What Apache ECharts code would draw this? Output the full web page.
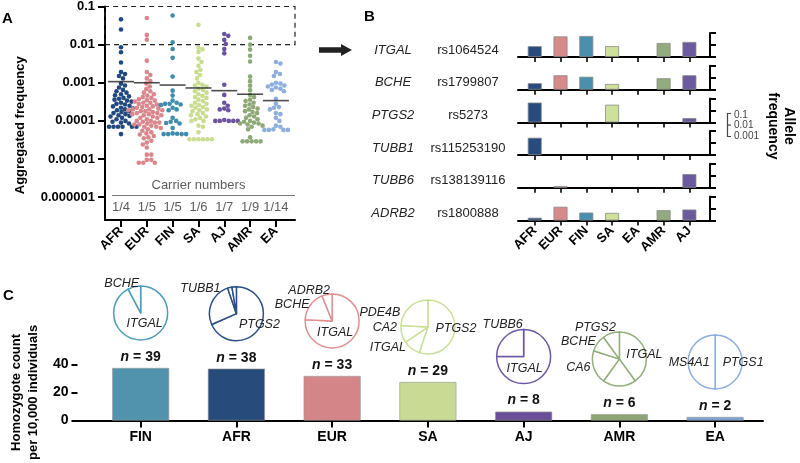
<!DOCTYPE html>
<html><head><meta charset="utf-8">
<script src="https://cdn.jsdelivr.net/npm/echarts@6/dist/echarts.min.js"></script>
<style>html,body{margin:0;padding:0;background:#fff}#c{width:800px;height:463px}</style>
</head><body><div id="c"></div>
<script>
// ================= DATA =================
// Panel A: aggregated frequency per carrier (log scale)
const popsA = ['AFR', 'EUR', 'FIN', 'SA', 'AJ', 'AMR', 'EA'];
const carriersA = ['1/4', '1/5', '1/5', '1/6', '1/7', '1/9', '1/14'];
const meanA = [0.00107, 0.001, 0.00087, 0.00073, 0.00062, 0.0005, 0.00034];
const tickLabelsA = ['0.000001', '0.00001', '0.0001', '0.001', '0.01', '0.1'];
const freqAFR = [0.046, 0.025, 0.0085, 0.0063, 0.0034, 0.0019, 0.0017, 0.0015, 0.0013,
  0.00095, 0.00085, 0.00075, 0.00065,
  0.0006, 0.00055, 0.0005, 0.00047, 0.00044, 0.0004, 0.00038, 0.00036,
  0.00034, 0.00032, 0.0003, 0.00028, 0.00027, 0.00025, 0.00024, 0.00022, 0.00021, 0.0002,
  0.00019, 0.00018, 0.00017, 0.00016, 0.00015, 0.00014, 0.000135, 0.00013, 0.00012, 0.00011,
  0.0001, 0.000095, 0.00009, 0.000085,
  0.00007, 0.00007, 0.00007, 0.00007, 0.00007, 0.00007, 0.000045];
const freqEUR = [0.05, 0.018, 0.0135, 0.0038, 0.0019, 0.0016, 0.0013, 0.0011,
  0.00095, 0.0008, 0.00068,
  0.0006, 0.00055, 0.0005, 0.00046, 0.00042, 0.0004, 0.00037, 0.00035,
  0.00034, 0.00032, 0.0003, 0.0003, 0.00028, 0.00027, 0.00026, 0.00025, 0.00024, 0.00023, 0.00022, 0.00021, 0.0002, 0.0002,
  0.00019, 0.00019, 0.00018, 0.00018, 0.00017, 0.00016, 0.00016, 0.00015, 0.00015, 0.00014, 0.00014, 0.00013, 0.00012, 0.00012, 0.00011, 0.0001,
  0.0001, 0.000095, 0.00009, 0.00009, 0.000085, 0.00008, 0.00008, 0.000075, 0.00007, 0.00007, 0.000065, 0.00006,
  0.000055, 0.00005, 0.000047, 0.000044, 0.00004, 0.000037, 0.000035,
  0.00003, 0.000027, 0.000024, 0.00002,
  0.000013, 0.000013, 0.0000095, 0.0000095, 0.000008, 0.000008, 0.000008];
const freqFIN = [0.058, 0.0115, 0.0077, 0.0045, 0.00145, 0.00062, 0.00046, 0.00034, 0.0003,
  0.00028, 0.00028, 0.00027, 0.00026, 0.00022, 0.0002, 0.00019, 0.00012, 0.0001, 0.000095,
  0.000088, 0.000085, 0.000065, 0.000047, 0.000046, 0.000045, 0.000045, 0.000045, 0.000045];
const freqSA = [0.033, 0.0083, 0.0075, 0.0064, 0.0043, 0.0035, 0.0028, 0.0022, 0.0019, 0.0016, 0.0013, 0.001,
  0.00088, 0.00085, 0.0008, 0.0007, 0.00065, 0.0006, 0.00055, 0.0005, 0.00045, 0.00042, 0.0004, 0.00036,
  0.00033, 0.0003, 0.00028, 0.00026, 0.00025, 0.00023, 0.00022, 0.0002, 0.00019, 0.00018, 0.00016, 0.00015,
  0.00014, 0.00013, 0.00012, 0.00011, 0.0001, 0.0001,
  0.000075, 0.00007, 0.00005,
  0.000033, 0.000033, 0.000033, 0.000033, 0.000033, 0.000033];
const freqAJ = [0.019, 0.017, 0.0133, 0.0104, 0.0077, 0.0059, 0.00089, 0.00048, 0.0003, 0.00025,
  0.00021, 0.0002, 0.00019, 0.000105, 0.0001, 0.0001, 0.0001, 0.0001, 0.0001];
const freqAMR = [0.015, 0.01, 0.0074, 0.0051, 0.0036, 0.00145, 0.0011, 0.00084, 0.00064,
  0.00048, 0.00042, 0.00036, 0.00033, 0.0003, 0.00027, 0.00025, 0.00023, 0.00021, 0.0002, 0.00018,
  0.00017, 0.00016, 0.00014, 0.00013, 0.00012,
  0.00011, 0.0001, 0.000095, 0.00009, 0.000085, 0.000085, 0.00008, 0.000075, 0.00007, 0.00006,
  0.000037, 0.000029, 0.000029, 0.000029, 0.000029, 0.000029];
const freqEA = [0.0035, 0.0032, 0.0019, 0.0017, 0.0015, 0.001, 0.00095, 0.0009, 0.00085, 0.0008,
  0.00075, 0.0007, 0.00065, 0.0006, 0.00038, 0.00028, 0.00023, 0.00022, 0.0002, 0.00016,
  0.00015, 0.00012, 0.0001, 0.000075, 0.00007, 0.00006, 0.000058, 0.000058, 0.000058, 0.000058];

// Panel B: allele frequency per variant (log 0.001 - 0.1)
const popsB = ['AFR', 'EUR', 'FIN', 'SA', 'EA', 'AMR', 'AJ'];
const genesB = ['ITGAL', 'BCHE', 'PTGS2', 'TUBB1', 'TUBB6', 'ADRB2'];
const snpsB = ['rs1064524', 'rs1799807', 'rs5273', 'rs115253190', 'rs138139116', 'rs1800888'];
const afITGAL = [0.008, 0.052, 0.056, 0.008, 0, 0.0147, 0.018];
const afBCHE = [0.0035, 0.016, 0.012, 0.003, 0, 0.009, 0.016];
const afPTGS2 = [0.045, 0, 0, 0.03, 0, 0, 0.0023];
const afTUBB1 = [0.028, 0, 0, 0, 0, 0, 0];
const afTUBB6 = [0, 0.0014, 0, 0, 0, 0, 0.014];
const afADRB2 = [0.0017, 0.014, 0.0046, 0.0043, 0, 0.0072, 0.0082];

// Panel C: homozygote count per 10,000 individuals
const popsC = ['FIN', 'AFR', 'EUR', 'SA', 'AJ', 'AMR', 'EA'];
const homRate = [37.4, 36.9, 31.7, 27.4, 6.4, 4.6, 2.6];
const homN = [39, 38, 33, 29, 8, 6, 2];
const pieGenesFIN = ['ITGAL', 'BCHE'];
const pieCountsFIN = [36, 3];
const pieGenesAFR = ['PTGS2', 'TUBB1', 'ITGAL', 'BCHE'];
const pieCountsAFR = [26, 10, 1, 1];
const pieGenesEUR = ['ITGAL', 'BCHE', 'ADRB2'];
const pieCountsEUR = [25, 6, 2];
const pieGenesSA = ['PTGS2', 'ITGAL', 'CA2', 'PDE4B'];
const pieCountsSA = [16, 3, 3, 7];
const pieGenesAJ = ['ITGAL', 'TUBB6'];
const pieCountsAJ = [6, 2];
const pieGenesAMR = ['ITGAL', 'other', 'CA6', 'BCHE', 'PTGS2'];
const pieCountsAMR = [4, 2, 2, 1, 1];
const pieGenesEA = ['PTGS1', 'MS4A1'];
const pieCountsEA = [1, 1];

// ================= STYLE / LAYOUT =================
const FONT = "'Liberation Sans', Arial, sans-serif";
const dotCol = {AFR:'#22497f', EUR:'#d9878c', FIN:'#3f8cad', SA:'#c9dc8f', AJ:'#6a539e', AMR:'#8fa877', EA:'#8eaedc'};
const barColB = {AFR:'#274b7d', EUR:'#d7898c', FIN:'#4a8fae', SA:'#cfe09a', EA:'#8eaedc', AMR:'#94aa7f', AJ:'#6c5a9e'};
const barColC = {FIN:'#5193ad', AFR:'#274b7b', EUR:'#d38587', SA:'#c8da94', AJ:'#6a5099', AMR:'#8ea476', EA:'#7ba2d6'};
const pieCol = {FIN:'#4d9cb8', AFR:'#2a4f86', EUR:'#df8f91', SA:'#c9e099', AJ:'#6b58a3', AMR:'#93ae7d', EA:'#8aaee0'};
const idx7 = [0,1,2,3,4,5,6];

const gA = {left:105, top:6, width:190, height:214};
const xA = [-0.62, 6.74], yA = [-6.6, -1];
const rowBottoms = [57, 89.7, 122.4, 155.1, 187.8, 220.5];
const gC = {left:71, top:364.3, width:692, height:56.4};

const el = document.getElementById('c');
const chart = echarts.init(el, null, {renderer:'canvas'});

// beeswarm layout (pixel-space collision avoidance)
function swarm(vals, gi) {
  const pxX = gA.width / (xA[1] - xA[0]);
  const pxY = gA.height / (yA[1] - yA[0]);
  const d = 4.3, placed = [], out = [];
  const logs = vals.map(v => Math.log10(v)).sort((a, b) => b - a);
  for (const ly of logs) {
    const y = ly * pxY;
    let off = 0;
    for (let k = 0; k < 400; k++) {
      const o = (k % 2 ? 1 : -1) * Math.ceil(k / 2) * 0.5;
      let ok = true;
      for (const p of placed) {
        if ((p[0] - o) * (p[0] - o) + (p[1] - y) * (p[1] - y) < d * d) { ok = false; break; }
      }
      if (ok) { off = o; break; }
    }
    placed.push([off, y]);
    out.push([gi + off / pxX, ly]);
  }
  return out;
}

const axisBlack = {color:'#000', width:2};
const xAxis = [], yAxis = [], grid = [], series = [];

// ---- Panel A ----
grid.push(gA);
xAxis.push({gridIndex:0, type:'value', min:xA[0], max:xA[1],
  axisLine:{onZero:false, lineStyle:axisBlack},
  axisTick:{customValues:idx7, length:7, lineStyle:axisBlack},
  axisLabel:{customValues:idx7, formatter:v => popsA[v], rotate:45, margin:9,
    fontFamily:FONT, fontWeight:'bold', fontSize:13, color:'#000'},
  splitLine:{show:false}});
yAxis.push({gridIndex:0, type:'value', min:yA[0], max:yA[1],
  name:'Aggregated frequency', nameLocation:'middle', nameGap:78,
  nameTextStyle:{fontFamily:FONT, fontWeight:'bold', fontSize:13, color:'#000', padding:[0, 24, 0, 0]},
  axisLine:{onZero:false, lineStyle:axisBlack},
  axisTick:{customValues:[-6,-5,-4,-3,-2,-1], length:7, lineStyle:axisBlack},
  axisLabel:{customValues:[-6,-5,-4,-3,-2,-1], formatter:v => tickLabelsA[Math.round(v) + 6], margin:10,
    fontFamily:FONT, fontWeight:'bold', fontSize:13, color:'#000'},
  splitLine:{show:false}});
const freqA = [freqAFR, freqEUR, freqFIN, freqSA, freqAJ, freqAMR, freqEA];
popsA.forEach((p, i) => {
  series.push({type:'scatter', xAxisIndex:0, yAxisIndex:0, symbol:'circle', symbolSize:4.6,
    itemStyle:{color:dotCol[p], opacity:1}, data:swarm(freqA[i], i), silent:true});
});
series.push({type:'scatter', xAxisIndex:0, yAxisIndex:0, symbol:'rect', symbolSize:[26, 1.6],
  itemStyle:{color:'#222'}, z:5, silent:true,
  data:meanA.map((m, i) => [i, Math.log10(m)]),
  markArea:{silent:true, itemStyle:{color:'rgba(0,0,0,0)', borderColor:'#222', borderWidth:1.2, borderType:[5,4]},
    data:[[{coord:[xA[0], -2]}, {coord:[xA[1], -1]}]]}});
series.push({type:'scatter', xAxisIndex:0, yAxisIndex:0, symbolSize:0, silent:true,
  data:carriersA.map((c, i) => [i, -6.27]),
  label:{show:true, position:'inside', formatter:p => carriersA[p.dataIndex], fontFamily:FONT, fontSize:13, color:'#333'},
  markLine:{silent:true, symbol:'none', label:{show:false}, lineStyle:{color:'#777', width:1, type:'solid'},
    data:[[{coord:[-0.35, -5.96]}, {coord:[xA[1], -5.96]}]]}});
series.push({type:'scatter', xAxisIndex:0, yAxisIndex:0, symbolSize:0, silent:true,
  data:[[3, -5.69]],
  label:{show:true, position:'inside', formatter:'Carrier numbers', fontFamily:FONT, fontSize:13, color:'#333'}});

// ---- Panel B ----
const rowAF = [afITGAL, afBCHE, afPTGS2, afTUBB1, afTUBB6, afADRB2];
rowAF.forEach((af, r) => {
  const gi = r + 1;
  grid.push({left:518, top:rowBottoms[r] - 24, width:192, height:24});
  xAxis.push({gridIndex:gi, type:'value', min:-0.65, max:6.8,
    axisLine:{onZero:false, lineStyle:axisBlack},
    axisTick:{customValues:idx7, length:5, lineStyle:{color:'#000', width:1.6}},
    axisLabel: r === 5 ? {customValues:idx7, formatter:v => popsB[v], rotate:45, margin:8,
      fontFamily:FONT, fontWeight:'bold', fontSize:13, color:'#000'} : {show:false},
    splitLine:{show:false}});
  yAxis.push({gridIndex:gi, type:'value', position:'right', min:0, max:2, interval:1,
    axisLine:{show:true, onZero:false, lineStyle:axisBlack},
    axisTick:{show:true, length:6, lineStyle:axisBlack},
    axisLabel:{show:false}, splitLine:{show:false}});
  const data = [];
  af.forEach((v, i) => {
    if (v > 0) data.push({value:[i, Math.log10(v) + 3], itemStyle:{color:barColB[popsB[i]]}});
  });
  series.push({type:'bar', xAxisIndex:gi, yAxisIndex:gi, barWidth:14, silent:true,
    itemStyle:{borderColor:'#8a8a8a', borderWidth:0.8}, data});
});

// ---- Panel C ----
grid.push(gC);
xAxis.push({gridIndex:7, type:'value', min:-0.66, max:6.5,
  axisLine:{onZero:false, lineStyle:axisBlack},
  axisTick:{customValues:idx7, length:7, lineStyle:axisBlack},
  axisLabel:{customValues:idx7, formatter:v => popsC[v], margin:10,
    fontFamily:FONT, fontWeight:'bold', fontSize:14, color:'#000'},
  splitLine:{show:false}});
yAxis.push({gridIndex:7, type:'value', min:0, max:40, interval:20,
  name:'Homozygote count\nper 10,000 individuals', nameLocation:'middle', nameGap:30,
  nameTextStyle:{fontFamily:FONT, fontWeight:'bold', fontSize:13, lineHeight:17, color:'#000'},
  axisLine:{show:false, onZero:false},
  axisTick:{show:true, length:6, lineStyle:axisBlack},
  axisLabel:{margin:9, fontFamily:FONT, fontWeight:'bold', fontSize:14, color:'#000'},
  splitLine:{show:false}});
series.push({type:'bar', xAxisIndex:7, yAxisIndex:7, barWidth:57, silent:true,
  itemStyle:{borderColor:'#999', borderWidth:0.6},
  data:homRate.map((v, i) => ({value:[i, v], itemStyle:{color:barColC[popsC[i]]}})),
  label:{show:true, position:'top', distance:4, formatter:p => '{i|n} = ' + homN[p.dataIndex],
    fontFamily:FONT, fontWeight:'bold', fontSize:14, color:'#111',
    rich:{i:{fontFamily:FONT, fontStyle:'italic', fontWeight:'bold', fontSize:14, color:'#111'}}}});

// ---- graphics: panel letters, arrow, row labels, legend ----
const graphic = [
  {type:'text', left:2, top:11, style:{text:'A', font:'bold 15px ' + FONT, fill:'#000'}},
  {type:'text', left:364, top:9, style:{text:'B', font:'bold 15px ' + FONT, fill:'#000'}},
  {type:'text', left:3, top:288, style:{text:'C', font:'bold 15px ' + FONT, fill:'#000'}},
  {type:'polygon', shape:{points:[[319,47.3],[341,47.3],[341,44],[352,50],[341,56],[341,52.7],[319,52.7]]}, style:{fill:'#222'}},
  {type:'text', x:781, y:126, rotation:-Math.PI/2,
    style:{text:'Allele\nfrequency', font:'bold 14px ' + FONT, fill:'#000', align:'center', verticalAlign:'middle', lineHeight:16}},
  {type:'polyline', shape:{points:[[731,113.5],[727.5,113.5],[727.5,136.5],[731,136.5]]}, style:{stroke:'#444', lineWidth:1.2, fill:null}},
  {type:'line', shape:{x1:727.5, y1:125, x2:731, y2:125}, style:{stroke:'#444', lineWidth:1.2}},
  {type:'text', x:734, y:115, style:{text:'0.1', font:'10px ' + FONT, fill:'#444', verticalAlign:'middle'}},
  {type:'text', x:734, y:125.5, style:{text:'0.01', font:'10px ' + FONT, fill:'#444', verticalAlign:'middle'}},
  {type:'text', x:734, y:136, style:{text:'0.001', font:'10px ' + FONT, fill:'#444', verticalAlign:'middle'}}
];
genesB.forEach((g, r) => {
  graphic.push({type:'text', x:393, y:rowBottoms[r] - 7, style:{text:g, font:'italic 13px ' + FONT, fill:'#222', align:'center', verticalAlign:'middle'}});
  graphic.push({type:'text', x:468, y:rowBottoms[r] - 7, style:{text:snpsB[r], font:'13px ' + FONT, fill:'#222', align:'center', verticalAlign:'middle'}});
});

chart.setOption({animation:false, backgroundColor:'#fff', grid, xAxis, yAxis, series, graphic});

// ---- Panel C pies, anchored above each bar via the chart's scales ----
const pieDefs = [
  {pop:'FIN', genes:pieGenesFIN, counts:pieCountsFIN, offs:[[4,11],[-19,-29]]},
  {pop:'AFR', genes:pieGenesAFR, counts:pieCountsAFR, offs:[[23,11],[-36,-25],null,null]},
  {pop:'EUR', genes:pieGenesEUR, counts:pieCountsEUR, offs:[[3,12],[-40,-16],[-23,-30]]},
  {pop:'SA', genes:pieGenesSA, counts:pieCountsSA, offs:[[28,1],[-40,20],[-43,0],[-48,-15]]},
  {pop:'AJ', genes:pieGenesAJ, counts:pieCountsAJ, offs:[[1,12],[-21,-32]]},
  {pop:'AMR', genes:pieGenesAMR, counts:pieCountsAMR, offs:[[25,-5],null,[-41,8],[-41,-18],[-24,-32]]},
  {pop:'EA', genes:pieGenesEA, counts:pieCountsEA, offs:[[28,1],[-26,1]]}
];
pieDefs.forEach(pd => {
  const i = popsC.indexOf(pd.pop);
  const pt = chart.convertToPixel({xAxisIndex:7, yAxisIndex:7}, [i, homRate[i]]);
  const c = [pt[0], pt[1] - 55];
  series.push({type:'pie', center:c, radius:27, startAngle:90, clockwise:true, silent:true,
    avoidLabelOverlap:false, minAngle:0,
    itemStyle:{color:'#fff', borderColor:pieCol[pd.pop], borderWidth:1.5},
    label:{show:true, position:'inside', fontFamily:FONT, fontStyle:'italic', fontSize:12.5, color:'#222'},
    labelLine:{show:false},
    labelLayout: p => {
      const o = pd.offs[p.dataIndex];
      if (!o) return {};
      return {x:c[0] + o[0], y:c[1] + o[1], align:'center', verticalAlign:'middle'};
    },
    data:pd.genes.map((g, k) => ({name:g, value:pd.counts[k], label:{show:!!pd.offs[k]}}))
  });
});
chart.setOption({series});
</script></body></html>
